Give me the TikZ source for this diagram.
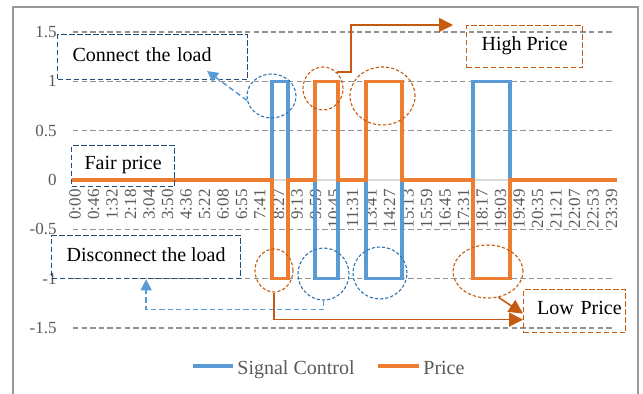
\documentclass[tikz,border=0pt]{standalone}
\usepackage{fontspec}
\setmainfont{Liberation Serif}
\usetikzlibrary{arrows.meta,shapes.geometric}

\definecolor{sigblue}{RGB}{91,155,213}
\definecolor{priceorange}{RGB}{237,125,49}
\definecolor{noteblue}{RGB}{31,78,121}
\definecolor{notered}{RGB}{197,90,17}
\definecolor{ringblue}{RGB}{46,117,182}
\definecolor{axisgray}{RGB}{89,89,89}

\begin{document}
\begin{tikzpicture}[x=.5pt,y=-.5pt,>=Stealth,font=\fontsize{8.5}{10}\selectfont,
  gridline/.style={gray!85,line width=.6pt,dash pattern=on 2.7pt off 1.6pt},
  sig/.style={line width=1.6pt},
  notebox/.style={draw,line width=.65pt,dash pattern=on 2.6pt off 1.4pt,anchor=north west,
    font=\fontsize{10}{12}\selectfont,inner ysep=0pt,text depth=.3em},
  ring/.style={ellipse,draw,line width=.55pt,dash pattern=on 1.6pt off 1pt,inner sep=0pt},
  link/.style={line width=.8pt,-{Triangle[length=7pt,width=7pt]}},
  ticklab/.style={text=axisgray,inner sep=1pt}]
  \useasboundingbox (0,0) rectangle (643,394);
  \draw[gray!80,line width=.9pt] (13,7) rectangle (638,398);

  % grid and axis labels
  \foreach \v in {1.5,1,0.5,-0.5,-1,-1.5}
    \draw[gridline] (73,{180-98.7*\v}) -- (612,{180-98.7*\v});
  \draw[gray!30,line width=.8pt] (73,180) -- (612,180);
  \foreach \v [count=\i] in {1.5,1,0.5,0,-0.5,-1,-1.5}
    \node[ticklab,anchor=east] (ylab\i) at (59,{180-98.7*\v}) {\v};
  \foreach \t [count=\i from 0] in {0:00,0:46,1:32,2:18,3:04,3:50,4:36,5:22,6:08,6:55,7:41,8:27,9:13,9:59,10:45,11:31,13:41,14:27,15:13,15:59,16:45,17:31,18:17,19:03,19:49,20:35,21:21,22:07,22:53,23:39}
    \node[ticklab,rotate=90,anchor=east] (xlab\i) at ({75+18.5*\i},187) {\t};

  % signal control and price
  \draw[sig,sigblue] (73,180) \foreach \a/\b/\s in {272/288/1,315/338/-1,366/402/-1,473/510/1}
    { -- (\a,180) -- (\a,{180-98.7*\s}) -- (\b,{180-98.7*\s}) -- (\b,180) } -- (617,180);
  \draw[sig,priceorange] (72,180) \foreach \a/\b/\s in {272/288/1,315/338/-1,366/402/-1,473/510/1}
    { -- (\a,180) -- (\a,{180+98.7*\s}) -- (\b,{180+98.7*\s}) -- (\b,180) } -- (617,180);

  % marked pulses
  \node[ring,ringblue,minimum width=24.5pt,minimum height=22pt] (bc1) at (271.5,96) {};
  \node[ring,ringblue,minimum width=25.5pt,minimum height=26pt] (bc2) at (323.5,274) {};
  \node[ring,ringblue,minimum width=27pt,minimum height=26pt] (bc3) at (380,273) {};
  \node[ring,notered,minimum width=20pt,minimum height=21.5pt] (oc1) at (323,88.5) {};
  \node[ring,notered,minimum width=32.5pt,minimum height=29pt] (oc2) at (382.5,96) {};
  \node[ring,notered,minimum width=19pt,minimum height=21.5pt] (oc3) at (274,270.5) {};
  \node[ring,notered,minimum width=35pt,minimum height=26.5pt] (oc4) at (488,271.5) {};

  % notes
  \node[notebox,noteblue,text=black,text width=80pt,align=left,inner xsep=7.5pt,minimum height=22.5pt] (con) at (57,34) {Connect the load};
  \node[notebox,noteblue,text=black,minimum width=51.5pt,minimum height=20.5pt] (fair) at (71,145) {Fair price};
  \node[notebox,noteblue,text=black,minimum width=94.5pt,minimum height=21.5pt] (disc) at (51,235) {Disconnect the load};
  \node[notebox,notered,text=black,minimum width=58pt,minimum height=21pt] (high) at (466,25) {High Price};
  \node[notebox,notered,text=black,text width=47pt,align=right,inner xsep=2pt,minimum height=21.5pt] (low) at (523,289) {Low Price};
  \coordinate (conTip) at (207,71);
  \coordinate (highTip) at (453,25);

  \draw[link,sigblue,dash pattern=on 2.6pt off 1.6pt,-{Triangle[length=5.5pt,width=5.5pt]}] (bc1.190) -- (conTip);
  \draw[link,sigblue,dash pattern=on 2.6pt off 1.6pt,-{Triangle[length=5.5pt,width=5.5pt]}] (bc2.south) -- ++(0,9) -| (disc.south);
  \draw[link,notered] (oc1.50) -- ++(14,0) |- (highTip);
  \draw[link,notered] (oc3.south) |- ([yshift=-4.25pt]low.west);
  \draw[link,notered] (oc4.-68) -- ([yshift=-1.2pt]low.west);

  % legend
  \draw[sig,sigblue] (193,366) -- (233,366);
  \node[text=axisgray,font=\fontsize{10}{12}\selectfont,anchor=base west,inner sep=0pt] (legsig) at (237,375) {Signal Control};
  \draw[sig,priceorange] (378,366) -- (419,366);
  \node[text=axisgray,font=\fontsize{10}{12}\selectfont,anchor=base west,inner sep=0pt] (legprice) at (423,375) {Price};
\end{tikzpicture}
\end{document}
